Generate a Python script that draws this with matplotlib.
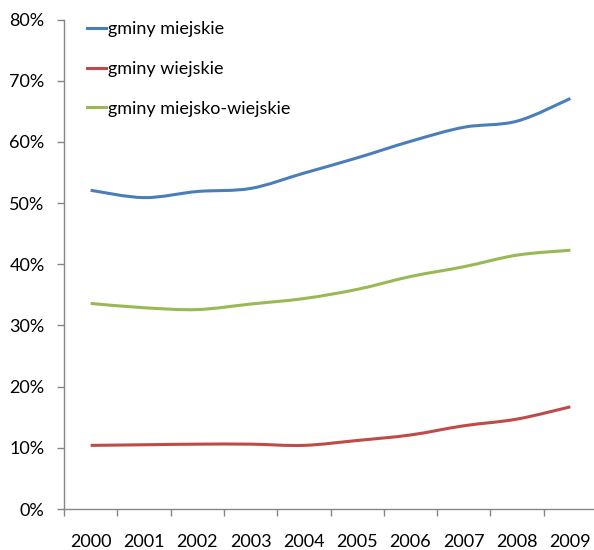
import matplotlib.pyplot as plt
import numpy as np
from matplotlib.path import Path
from matplotlib.patches import PathPatch
from matplotlib.lines import Line2D
from matplotlib.ticker import FixedLocator, PercentFormatter

years = ["2000", "2001", "2002", "2003", "2004", "2005", "2006", "2007", "2008", "2009"]
miejskie = [52.1, 50.9, 51.9, 52.4, 54.9, 57.4, 60.1, 62.4, 63.4, 67.1]
wiejskie = [10.4, 10.5, 10.6, 10.6, 10.4, 11.2, 12.1, 13.6, 14.7, 16.7]
miejsko_wiejskie = [33.6, 32.9, 32.6, 33.5, 34.4, 35.9, 38.0, 39.6, 41.5, 42.3]

series = [
    ("gminy miejskie", miejskie, "#4a7ebb"),
    ("gminy wiejskie", wiejskie, "#be4b48"),
    ("gminy miejsko-wiejskie", miejsko_wiejskie, "#98b954"),
]

plt.rcParams['font.family'] = ['Lato', 'DejaVu Sans']


def smooth_path(x, y):
    # Catmull-Rom style bezier segments, like spreadsheet "smoothed line"
    pts = np.column_stack([x, y]).astype(float)
    n = len(pts)
    verts = [pts[0]]
    codes = [Path.MOVETO]
    for i in range(n - 1):
        p0 = pts[i - 1] if i > 0 else pts[i]
        p1 = pts[i]
        p2 = pts[i + 1]
        p3 = pts[i + 2] if i + 2 < n else pts[i + 1]
        c1 = p1 + (p2 - p0) / 6.0
        c2 = p2 - (p3 - p1) / 6.0
        verts += [c1, c2, p2]
        codes += [Path.CURVE4] * 3
    return Path(verts, codes)


W, H = 594, 550
fig = plt.figure(figsize=(W / 100, H / 100), dpi=100)
ax = fig.add_axes([64 / W, (H - 509) / H, 533 / W, (509 - 19.6) / H])

x = np.arange(len(years))
for name, vals, color in series:
    patch = PathPatch(smooth_path(x, vals), facecolor="none", edgecolor=color,
                      linewidth=2.2, capstyle="butt", joinstyle="round")
    ax.add_patch(patch)

ax.set_xlim(-0.5, len(years) - 0.5)
ax.set_ylim(0, 80)

for side in ("top", "right"):
    ax.spines[side].set_visible(False)
for side in ("left", "bottom"):
    ax.spines[side].set_color("#868686")
    ax.spines[side].set_linewidth(1.0)

ax.yaxis.set_major_locator(FixedLocator(np.arange(0, 81, 10)))
ax.yaxis.set_major_formatter(PercentFormatter(decimals=0))
ax.tick_params(axis="y", length=5, width=1.0, color="#868686", pad=9,
               labelsize=13, labelcolor="black")

# category boundaries carry the tick marks, labels sit at the centres
ax.set_xticks(np.arange(-0.5, len(years), 1.0))
ax.set_xticklabels([])
ax.set_xticks(x, minor=True)
ax.set_xticklabels(years, minor=True)
ax.tick_params(axis="x", which="major", length=5, width=1.0, color="#868686")
ax.tick_params(axis="x", which="minor", length=0, pad=18, labelsize=13,
               labelcolor="black")

handles = [Line2D([], [], color=c, linewidth=2.2) for _, _, c in series]
labels = [n for n, _, _ in series]
ax.legend(handles, labels, loc="upper left", bbox_to_anchor=(87 / W, 1 - 21 / H),
          bbox_transform=fig.transFigure, frameon=False, fontsize=13,
          handlelength=1.05, handletextpad=0.1, labelspacing=1.32,
          borderpad=0, borderaxespad=0)

fig.savefig("out.png", dpi=100)
